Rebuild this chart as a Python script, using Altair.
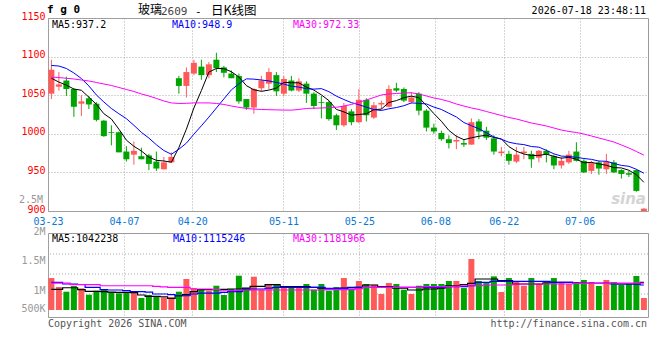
import altair as alt
import pandas as pd

# ---------------- data ----------------
opens = [1052, 1061, 1069, 1058, 1039, 1046, 1039, 1017, 1002, 1002,
         977, 973, 971, 972, 964, 954, 963, 1072, 1062, 1078,
         1087, 1076, 1096, 1086, 1078, 1075, 1045, 1034, 1059, 1065,
         1076, 1052, 1069, 1056, 1065, 1052, 1041, 1041, 1024, 1011,
         1029, 1015, 1044, 1021, 1038, 1035, 1059, 1058, 1041, 1052,
         1030, 1008, 1001, 993, 990, 988, 986, 1016, 1004, 994,
         975, 974, 964, 975, 974, 969, 978, 971, 959, 963,
         977, 965, 952, 963, 954, 963, 953, 949, 953, 900]
highs = [1096, 1080, 1074, 1059, 1050, 1049, 1041, 1018, 1011, 1003,
         984, 990, 982, 974, 977, 970, 976, 1075, 1086, 1096,
         1096, 1093, 1105, 1088, 1082, 1078, 1045, 1059, 1075, 1085,
         1080, 1075, 1075, 1072, 1068, 1054, 1049, 1043, 1026, 1040,
         1032, 1058, 1046, 1041, 1043, 1063, 1066, 1060, 1054, 1054,
         1032, 1013, 1004, 998, 998, 993, 1020, 1019, 1009, 998,
         983, 978, 983, 983, 978, 979, 980, 973, 970, 978,
         989, 967, 965, 965, 974, 966, 954, 952, 954, 904]
lows = [1045, 1056, 1049, 1022, 1023, 1032, 1016, 996, 985, 976,
        964, 960, 967, 953, 952, 954, 962, 1052, 1047, 1076,
        1070, 1072, 1080, 1073, 1072, 1039, 1031, 1026, 1055, 1058,
        1049, 1049, 1055, 1054, 1040, 1032, 1020, 1017, 1005, 1009,
        1011, 1014, 1016, 1019, 1032, 1034, 1054, 1041, 1039, 1024,
        1003, 1000, 991, 981, 980, 983, 986, 993, 992, 973,
        971, 960, 962, 967, 956, 963, 963, 954, 955, 961,
        964, 949, 948, 947, 948, 949, 942, 944, 925, 897]
closes = [1083, 1064, 1058, 1035, 1042, 1038, 1018, 997, 1001, 976,
          967, 978, 967, 961, 955, 963, 970, 1062, 1080, 1092,
          1076, 1090, 1085, 1079, 1072, 1042, 1034, 1058, 1069, 1080,
          1055, 1071, 1056, 1068, 1052, 1036, 1040, 1019, 1011, 1036,
          1015, 1044, 1024, 1037, 1040, 1058, 1056, 1043, 1047, 1030,
          1008, 1003, 993, 988, 992, 986, 1015, 1003, 995, 977,
          977, 965, 973, 977, 967, 978, 973, 959, 965, 973,
          965, 950, 962, 955, 964, 950, 948, 947, 926, 903]
ma5 = [1072, 1067, 1063, 1058, 1056.4, 1047.4, 1038.2, 1026, 1019.2, 1006,
       991.8, 983.8, 977.8, 969.8, 965.6, 964.8, 963.2, 982.2, 1006, 1033.4,
       1056, 1080, 1084.6, 1084.4, 1080.4, 1073.6, 1062.4, 1057, 1055, 1056.6,
       1059.2, 1066.6, 1066.2, 1066, 1060.4, 1056.6, 1050.4, 1043, 1031.6, 1028.4,
       1024.2, 1025, 1026, 1031.2, 1032, 1040.6, 1043, 1046.8, 1048.8, 1046.8,
       1036.8, 1026.2, 1016.2, 1004.4, 996.8, 992.4, 994.8, 996.8, 998.2, 995.2,
       993.4, 983.4, 977.4, 973.8, 971.8, 972, 973.6, 970.8, 968.4, 969.6,
       967, 962.4, 963, 961, 959.2, 956.2, 955.8, 952.8, 947, 937.2]
ma10 = [1088.5, 1087.8, 1084.6, 1078.8, 1071.6, 1062, 1050.3, 1041.2, 1032.8, 1026,
        1019.6, 1011, 1001.9, 994.5, 985.8, 978.3, 973.5, 980, 987.9, 999.5,
        1010.4, 1021.6, 1033.4, 1045.2, 1056.9, 1064.8, 1071.2, 1070.8, 1069.7, 1068.5,
        1066.4, 1064.5, 1061.6, 1060.5, 1058.5, 1057.9, 1058.5, 1054.6, 1048.8, 1044.4,
        1040.4, 1037.7, 1034.5, 1031.4, 1030.2, 1032.4, 1034, 1036.4, 1040, 1039.4,
        1038.7, 1034.6, 1031.5, 1026.6, 1021.8, 1014.6, 1010.5, 1006.5, 1001.3, 996,
        992.9, 989.1, 987.1, 986, 983.5, 982.7, 978.5, 974.1, 971.1, 970.7,
        969.5, 968, 966.9, 964.7, 964.4, 961.6, 959.1, 957.9, 954, 948.9]
ma30 = [1073.5, 1072.9, 1071.9, 1071, 1069.7, 1068.4, 1066.5, 1064.5, 1062.6, 1060,
        1057.4, 1054.8, 1051.6, 1049, 1045.8, 1042.5, 1040, 1039.3, 1039.5, 1040,
        1040, 1040, 1039.3, 1038, 1036, 1034.3, 1032.8, 1032, 1031.5, 1031.2,
        1031, 1030.7, 1030.7, 1031.5, 1032.8, 1033.2, 1033.4, 1034, 1034.3, 1036,
        1038, 1040.8, 1043.8, 1047, 1050.3, 1051.6, 1052.2, 1052.9, 1053.1, 1051.6,
        1049, 1046.4, 1044.5, 1041.9, 1038.6, 1036, 1033.4, 1031.5, 1028.9, 1026.3,
        1023.7, 1021.1, 1019.2, 1016.6, 1014, 1012.1, 1010.1, 1007.5, 1004.9, 1003,
        1001.7, 999.7, 997.2, 994.6, 992, 989.4, 985.5, 981.6, 977.1, 972.33]
volumes = [1127000, 951000, 859000, 971000, 925000, 800000, 878000, 912000, 853000, 827000,
           833000, 833000, 735000, 794000, 775000, 750000, 749000, 859000, 1108000, 931000,
           892000, 878000, 976000, 794000, 912000, 1173000, 931000, 1153000, 898000, 990000,
           1010000, 957000, 945000, 945000, 1010000, 898000, 1010000, 878000, 951000, 1127000,
           912000, 1069000, 1010000, 996000, 814000, 1029000, 1010000, 898000, 814000, 976000,
           1010000, 1010000, 1010000, 1069000, 1069000, 931000, 1500000, 1069000, 1029000, 1160000,
           853000, 1127000, 1069000, 976000, 1127000, 1010000, 1069000, 1127000, 1029000, 1010000,
           1049000, 1088000, 1049000, 971000, 1088000, 1049000, 990000, 1010000, 1167000, 735000]
vol_ma5 = [906000, 906000, 937000, 937000, 900000, 867000, 867000, 860000, 850000, 847000,
           847000, 840000, 794000, 769000, 769000, 760000, 729000, 780000, 800000, 859000,
           898000, 898000, 900000, 905000, 912000, 912000, 930000, 965000, 965000, 996000,
           996000, 957000, 957000, 957000, 957000, 945000, 930000, 912000, 912000, 930000,
           945000, 945000, 990000, 990000, 957000, 957000, 931000, 931000, 892000, 892000,
           912000, 912000, 930000, 976000, 976000, 1000000, 1024000, 1108000, 1108000, 1108000,
           1075000, 1075000, 1010000, 1010000, 1010000, 1010000, 1030000, 1043000, 1043000, 1043000,
           1030000, 1024000, 1024000, 1024000, 1024000, 1020000, 1010000, 1010000, 1010000, 1042000]
vol_ma10 = [1043000, 1043000, 1010000, 1010000, 1000000, 945000, 945000, 900000, 892000, 892000,
            880000, 859000, 859000, 850000, 814000, 814000, 800000, 780000, 780000, 814000,
            833000, 833000, 833000, 845000, 859000, 859000, 900000, 912000, 912000, 930000,
            945000, 945000, 945000, 945000, 945000, 945000, 945000, 925000, 925000, 925000,
            935000, 945000, 945000, 945000, 945000, 945000, 945000, 945000, 945000, 945000,
            945000, 945000, 945000, 957000, 957000, 957000, 980000, 1043000, 1043000, 1063000,
            1063000, 1063000, 1063000, 1063000, 1063000, 1063000, 1063000, 1043000, 1043000, 1043000,
            1024000, 1024000, 1024000, 1024000, 1024000, 1010000, 1010000, 1010000, 1010000, 990000]
vol_ma30 = [1029000, 1029000, 1029000, 996000, 996000, 996000, 996000, 976000, 976000, 976000,
            976000, 976000, 976000, 976000, 965000, 955000, 945000, 945000, 945000, 912000,
            912000, 912000, 900000, 878000, 878000, 890000, 892000, 892000, 892000, 892000,
            892000, 892000, 892000, 892000, 892000, 892000, 892000, 898000, 898000, 898000,
            898000, 920000, 945000, 945000, 945000, 945000, 945000, 945000, 945000, 945000,
            957000, 957000, 957000, 957000, 965000, 976000, 976000, 976000, 990000, 990000,
            990000, 990000, 1010000, 1010000, 1010000, 1010000, 1010000, 1010000, 1010000, 1010000,
            1024000, 1024000, 1024000, 1024000, 1024000, 1029000, 1029000, 1029000, 1029000, 1029000]

tick_idx = [0, 10, 19, 31, 41, 51, 60, 70]
tick_labels = ["03-23", "04-07", "04-20", "05-11", "05-25", "06-08", "06-22", "07-06"]
price_ticks = [900, 950, 1000, 1050, 1100, 1150]
vol_ticks = [500000, 1000000, 1500000, 2000000]
vol_tick_labels = ["500K", "1M", "1.5M", "2M"]
vol_grid = [814000, 1206000, 1598000]

price_legend = ["MA5:937.2", "MA10:948.9", "MA30:972.33"]
vol_legend = ["MA5:1042238", "MA10:1115246", "MA30:1181966"]

# ---------------- styling ----------------
MONO = "DejaVu Sans Mono"
CJK = "Noto Sans CJK SC"
RED = "#ff5a5a"
GREEN = "#00a400"
GRID = "#aaaaaa"
W, H1, H2 = 600, 193, 84

n = len(closes)
df = pd.DataFrame({
    "i": list(range(n)),
    "open": opens, "high": highs, "low": lows, "close": closes,
    "ma5": ma5, "ma10": ma10, "ma30": ma30,
    "vol": volumes, "vma5": vol_ma5, "vma10": vol_ma10, "vma30": vol_ma30,
})
df["x"] = df["i"] + 0.45
df["dir"] = ["up" if c >= o else "down" for o, c in zip(opens, closes)]

# sina places its date gridlines on a slightly different step than its candles
tick_pos = [k * n / (n - 1) for k in tick_idx]
x_label_expr = ("[" + ",".join("'%s'" % s for s in tick_labels) + "][indexof(["
                + ",".join(str(k) for k in tick_idx) + "], round(datum.value*%d/%d))]" % (n - 1, n))
v_label_expr = ("[" + ",".join("'%s'" % s for s in vol_tick_labels) + "][indexof(["
                + ",".join(str(v) for v in vol_ticks) + "], datum.value)]")

xscale = alt.Scale(domain=[0, n], nice=False, zero=False, padding=0)
pscale = alt.Scale(domain=[900, 1150], nice=False, zero=False, padding=0)
vscale = alt.Scale(domain=[363000, 2010000], nice=False, zero=False, padding=0)
cscale = alt.Scale(domain=["up", "down"], range=[RED, GREEN])

xaxis_p = alt.Axis(values=tick_pos, labelExpr=x_label_expr, grid=True, gridColor=GRID,
                   gridDash=[1, 2], ticks=False, domain=False, labelColor="#0a78d6",
                   labelFont=MONO, labelFontSize=10, labelPadding=5, labelBaseline="top",
                   labelFlush=False, labelOverlap=False, title=None)
xaxis_v = alt.Axis(values=tick_pos, labels=False, grid=True, gridColor=GRID, gridDash=[1, 2],
                   ticks=False, domain=False, title=None)
yaxis_p = alt.Axis(values=price_ticks, grid=True, gridColor=GRID, gridDash=[1, 2], ticks=False,
                   domain=False, labelColor="#ff0000", labelFont=MONO, labelFontSize=10,
                   labelPadding=3, labelBaseline="alphabetic", labelOffset=1, format="d",
                   labelOverlap=False, labelFlush=False, title=None)
# sina's volume labels sit unevenly against their scale; nudge the middle ones as it does
vol_label_offset = {"condition": [{"test": "datum.value == 1000000", "value": 9},
                                  {"test": "datum.value == 1500000", "value": 4}],
                    "value": 1}
yaxis_v = alt.Axis(values=vol_ticks, labelExpr=v_label_expr, grid=False, ticks=False,
                   domain=False, labelColor="#999999", labelFont=MONO, labelFontSize=10,
                   labelPadding=3, labelBaseline="alphabetic", labelOffset=vol_label_offset,
                   labelOverlap=False, labelFlush=False, title=None)


def XP():
    return alt.X("x:Q", scale=xscale, axis=xaxis_p)


def XV():
    return alt.X("x:Q", scale=xscale, axis=xaxis_v)


def YP(f):
    return alt.Y(f + ":Q", scale=pscale, axis=yaxis_p)


def YV(f):
    return alt.Y(f + ":Q", scale=vscale, axis=yaxis_v)


COL = alt.Color("dir:N", scale=cscale, legend=None)


def label(s, px, py, **kw):
    return alt.Chart(pd.DataFrame({"t": [s]})).mark_text(**kw).encode(
        text="t:N", x=alt.value(px), y=alt.value(py))


base = alt.Chart(df)

# ---------------- price panel ----------------
wick = base.mark_rule(strokeWidth=1, clip=True).encode(x=XP(), y=YP("low"), y2="high", color=COL)
body = base.mark_bar(size=6, clip=True).encode(x=XP(), y=YP("open"), y2="close", color=COL)
p5 = base.mark_line(color="#000000", strokeWidth=1, clip=True).encode(x=XP(), y=YP("ma5"))
p10 = base.mark_line(color="#0000ff", strokeWidth=1, clip=True).encode(x=XP(), y=YP("ma10"))
p30 = base.mark_line(color="#ff00ff", strokeWidth=1, clip=True).encode(x=XP(), y=YP("ma30"))

price_texts = [
    label("f g 0", -1, -14, align="left", baseline="top", font=MONO, fontSize=11,
          fontWeight="bold", color="#000000"),
    label("玻璃", 90, -13, align="left", baseline="top", font=CJK, fontSize=12, color="#000000"),
    label("2609", 113, -12, align="left", baseline="top", font=MONO, fontSize=11, color="#444444"),
    label("-", 147, -12, align="left", baseline="top", font=MONO, fontSize=11, color="#000000"),
    label("日K线图", 163, -13, align="left", baseline="top", font=CJK, fontSize=12.5, color="#000000"),
    label("2026-07-18 23:48:11", 598, -12, align="right", baseline="top", font=MONO,
          fontSize=10, color="#000000"),
    label(price_legend[0], 4, 2, align="left", baseline="top", font=MONO, fontSize=10, color="#000000"),
    label(price_legend[1], 124, 2, align="left", baseline="top", font=MONO, fontSize=10, color="#0000ff"),
    label(price_legend[2], 245, 2, align="left", baseline="top", font=MONO, fontSize=10, color="#ff00ff"),
    label("2.5M", -5, 185, align="right", baseline="alphabetic", font=MONO, fontSize=10, color="#999999"),
    label("sina", 598, 186, align="right", baseline="alphabetic", font="DejaVu Sans", fontSize=15,
          fontStyle="italic", fontWeight="bold", color="#d4d4d4"),
]

price = alt.layer(wick, body, p5, p10, p30, *price_texts).properties(width=W, height=H1)

# ---------------- volume panel ----------------
vgrid = alt.Chart(pd.DataFrame({"g": vol_grid})).mark_rule(
    color=GRID, strokeDash=[1, 2], strokeWidth=1).encode(y=YV("g"))
vbar = base.mark_bar(size=6, clip=True).encode(x=XV(), y=YV("vol"), y2=alt.datum(500000), color=COL)
v5 = base.mark_line(color="#000000", strokeWidth=1.2, interpolate="step", clip=True).encode(x=XV(), y=YV("vma5"))
v10 = base.mark_line(color="#0000ff", strokeWidth=1.2, interpolate="step", clip=True).encode(x=XV(), y=YV("vma10"))
v30 = base.mark_line(color="#ff00ff", strokeWidth=1.2, interpolate="step", clip=True).encode(x=XV(), y=YV("vma30"))

vol_texts = [
    label(vol_legend[0], 4, 1, align="left", baseline="top", font=MONO, fontSize=10, color="#000000"),
    label(vol_legend[1], 125, 1, align="left", baseline="top", font=MONO, fontSize=10, color="#0000ff"),
    label(vol_legend[2], 245, 1, align="left", baseline="top", font=MONO, fontSize=10, color="#ff00ff"),
    label("Copyright 2026 SINA.COM", 0, 86, align="left", baseline="top", font=MONO,
          fontSize=10, color="#555555"),
    label("http://finance.sina.com.cn", 599, 86, align="right", baseline="top", font=MONO,
          fontSize=10, color="#555555"),
]

volume = alt.layer(vgrid, vbar, v5, v10, v30, *vol_texts).properties(width=W, height=H2)

chart = alt.vconcat(price, volume, spacing=22, bounds="flush").properties(
    padding={"left": 18, "top": 3, "right": 5, "bottom": 5},
    background="white",
).configure_view(stroke="#999999", strokeWidth=1)

chart.save("out.html", embed_options={"renderer": "svg", "actions": False})
